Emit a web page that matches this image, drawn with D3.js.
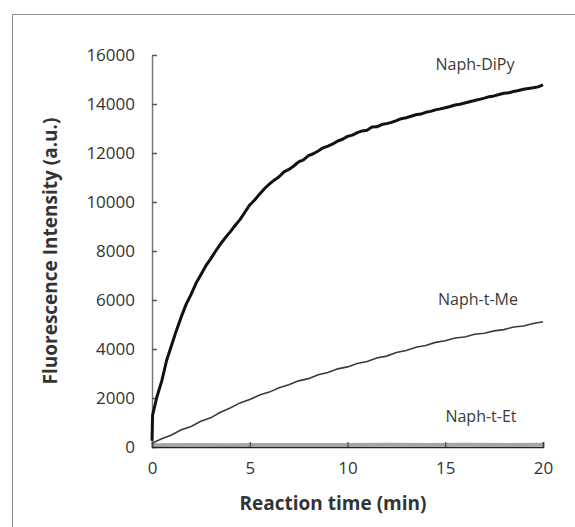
<!DOCTYPE html>
<html>
<head>
<meta charset="utf-8">
<script src="https://cdn.jsdelivr.net/npm/d3@7"></script>
<style>
  body { margin: 0; background: #fff; }
  svg { display: block; }
  .tick text { font-family: "Open Sans", sans-serif; fill: #333; }
</style>
</head>
<body>
<div class="chart"></div>
<script>
// data
var dipyTime = [0, 0.03, 0.25, 0.5, 0.75, 1, 1.25, 1.5, 1.75, 2, 2.25, 2.5, 2.75, 3, 3.25, 3.5, 3.75, 4, 4.25, 4.5, 4.75,
  5, 5.25, 5.5, 5.75, 6, 6.25, 6.5, 6.75, 7, 7.25, 7.5, 7.75, 8, 8.25, 8.5, 8.75, 9, 9.25, 9.5, 9.75,
  10, 10.25, 10.5, 10.75, 11, 11.25, 11.5, 11.75, 12, 12.25, 12.5, 12.75, 13, 13.25, 13.5, 13.75, 14, 14.25, 14.5, 14.75,
  15, 15.25, 15.5, 15.75, 16, 16.25, 16.5, 16.75, 17, 17.25, 17.5, 17.75, 18, 18.25, 18.5, 18.75, 19, 19.25, 19.5, 19.75, 20];
var dipyValue = [250, 1300, 2040, 2700, 3540, 4150, 4760, 5320, 5830, 6230, 6680, 7030, 7390, 7680, 7990, 8280, 8540, 8780, 9040, 9280, 9580,
  9880, 10080, 10320, 10540, 10730, 10890, 11030, 11230, 11330, 11470, 11640, 11720, 11890, 11970, 12080, 12210, 12280, 12370, 12490, 12560,
  12680, 12730, 12830, 12900, 12930, 13060, 13070, 13160, 13200, 13250, 13320, 13400, 13440, 13500, 13560, 13590, 13660, 13700, 13760, 13800,
  13850, 13900, 13960, 13990, 14040, 14090, 14140, 14190, 14240, 14300, 14330, 14390, 14440, 14460, 14510, 14550, 14600, 14630, 14660, 14700, 14780];

var meTime = [0, 0.5, 1, 1.5, 2, 2.5, 3, 3.5, 4, 4.5, 5, 5.5, 6, 6.5, 7, 7.5, 8, 8.5, 9, 9.5,
  10, 10.5, 11, 11.5, 12, 12.5, 13, 13.5, 14, 14.5, 15, 15.5, 16, 16.5, 17, 17.5, 18, 18.5, 19, 19.5, 20];
var meValue = [150, 340, 490, 700, 840, 1050, 1190, 1420, 1590, 1800, 1940, 2120, 2240, 2420, 2540, 2700, 2790, 2950, 3040, 3190,
  3270, 3410, 3490, 3630, 3710, 3860, 3940, 4070, 4140, 4270, 4340, 4450, 4490, 4600, 4640, 4740, 4790, 4900, 4940, 5040, 5110];

var etTime = [0, 2, 4, 6, 8, 10, 12, 14, 16, 18, 20];
var etValue = [80, 90, 85, 95, 90, 95, 100, 95, 100, 95, 100];

var xTicks = [0, 5, 10, 15, 20];
var yTicks = [0, 2000, 4000, 6000, 8000, 10000, 12000, 14000, 16000];

var width = 575;
var height = 527;

var svg = d3.select(".chart")
  .append("svg")
  .attr("width", width)
  .attr("height", height);

// frame of the figure
svg.append("path")
  .attr("d", "M12.5," + height + "V14.5H" + width)
  .attr("fill", "none")
  .attr("stroke", "#8a8a8a")
  .attr("stroke-width", 1);

var x = d3.scaleLinear().domain([0, 20]).range([152, 543]);
var y = d3.scaleLinear().domain([0, 16000]).range([447, 55]);

var yAxis = d3.axisLeft(y)
  .tickValues(yTicks)
  .tickSizeInner(-5)
  .tickSizeOuter(0)
  .tickPadding(17)
  .tickFormat(d3.format("d"));

var gy = svg.append("g")
  .attr("transform", "translate(" + x(0) + ",0)")
  .call(yAxis);
gy.select(".domain").attr("stroke", "#777").attr("stroke-width", 1.5);
gy.selectAll(".tick line").attr("stroke", "#555").attr("stroke-width", 1.5);
gy.selectAll(".tick text").style("font-size", "17px");

var line = d3.line()
  .x(function(d) { return x(d[0]); })
  .y(function(d) { return y(d[1]); });

// Naph-t-Et sits on the baseline
svg.append("path")
  .datum(d3.zip(etTime, etValue))
  .attr("fill", "none")
  .attr("stroke", "#a5a5a5")
  .attr("stroke-width", 3.5)
  .attr("d", line);

var xAxis = d3.axisBottom(x)
  .tickValues(xTicks)
  .tickSizeInner(-5)
  .tickSizeOuter(-5)
  .tickPadding(15)
  .tickFormat(d3.format("d"));

var gx = svg.append("g")
  .attr("transform", "translate(0," + y(0) + ")")
  .call(xAxis);
gx.select(".domain").attr("stroke", "#222").attr("stroke-width", 1.6);
gx.selectAll(".tick line").attr("stroke", "#444").attr("stroke-width", 1.2);
gx.selectAll(".tick text").style("font-size", "17px");

svg.append("path")
  .datum(d3.zip(meTime, meValue))
  .attr("fill", "none")
  .attr("stroke", "#3a3a3a")
  .attr("stroke-width", 1.6)
  .attr("d", line);

svg.append("path")
  .datum(d3.zip(dipyTime, dipyValue))
  .attr("fill", "none")
  .attr("stroke", "#111")
  .attr("stroke-width", 3)
  .attr("stroke-linejoin", "round")
  .attr("d", line);

// series labels
var labels = [
  { text: "Naph-DiPy", x: 475, y: 70 },
  { text: "Naph-t-Me", x: 478, y: 305 },
  { text: "Naph-t-Et", x: 481, y: 422 }
];
svg.selectAll(".series-label")
  .data(labels)
  .enter().append("text")
  .attr("class", "series-label")
  .attr("x", function(d) { return d.x; })
  .attr("y", function(d) { return d.y; })
  .attr("text-anchor", "middle")
  .style("font-family", "'Open Sans', sans-serif")
  .style("font-size", "16px")
  .style("fill", "#3a3a3a")
  .text(function(d) { return d.text; });

// axis titles
svg.append("text")
  .attr("x", 333)
  .attr("y", 510)
  .attr("text-anchor", "middle")
  .style("font-family", "'Open Sans', sans-serif")
  .style("font-weight", "bold")
  .style("font-size", "19px")
  .style("fill", "#333")
  .text("Reaction time (min)");

svg.append("text")
  .attr("transform", "translate(57,251) rotate(-90)")
  .attr("text-anchor", "middle")
  .style("font-family", "'Open Sans', sans-serif")
  .style("font-weight", "bold")
  .style("font-size", "19px")
  .style("fill", "#333")
  .text("Fluorescence Intensity (a.u.)");
</script>
</body>
</html>
